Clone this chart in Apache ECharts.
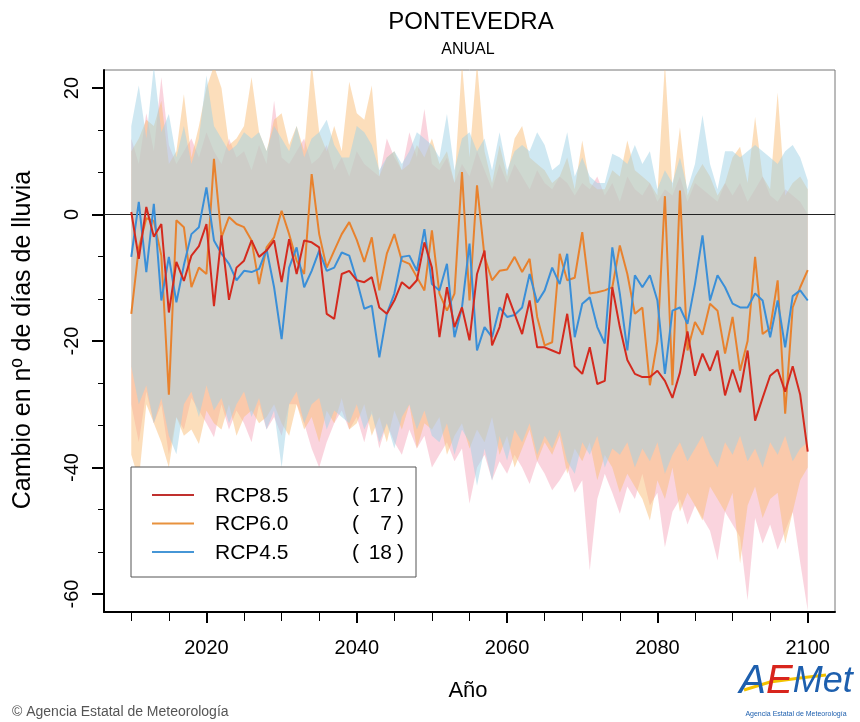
<!DOCTYPE html>
<html>
<head>
<meta charset="utf-8">
<script src="https://cdn.jsdelivr.net/npm/echarts@6/dist/echarts.min.js"></script>
<style>html,body{margin:0;padding:0;background:#fff}#c{width:860px;height:722px}</style>
</head>
<body>
<div id="c"></div>
<script>
// ---- data ----
const firstYear = 2010, lastYear = 2100;
const years = Array.from({length: lastYear - firstYear + 1}, (_, i) => firstYear + i);

const seriesNames = ['RCP8.5', 'RCP6.0', 'RCP4.5'];
const modelCounts = [17, 7, 18];

const rcp85 = [
  0.4, -7, 1.2, -3.5, -1.5, -15.5, -7.5, -10.5, -6.5, -5,
  -1.5, -14.5, -3.3, -13.5, -8.4, -7.3, -4.1, -6.7, -5.7, -4.1,
  -10.7, -3.9, -9.4, -4.1, -4.4, -5.2, -15.7, -16.5, -9.4, -8.9,
  -10.4, -10.7, -9.9, -14.7, -15.7, -13.6, -10.7, -11.7, -10.4, -4.4,
  -8.4, -19.4, -11.5, -17.8, -14.7, -19.9, -9.4, -5.7, -20.7, -17.8,
  -12.5, -15.7, -18.9, -13.6, -21, -21, -21.5, -22, -15.7, -24,
  -25.2, -21, -26.8, -26.3, -11.5, -17.8, -23, -25.2, -25.7, -25.7,
  -24.7, -26.3, -29, -25, -18.5, -25.5, -22, -24.7, -21.5, -28.6,
  -24.5, -28.1, -21.5, -32.6, -29, -25.5, -24.5, -28, -24, -28.5, -37.5
];
const rcp60 = [
  -15.7, -5.3, -0.6, -1, -6.5, -28.5, -0.9, -2, -11.5, -8.4,
  -9.4, 8.8, -3.6, -0.4, -1.5, -2, -4.1, -11, -5.2, -3.6,
  0.6, -3.1, -7.3, -9.4, 6.4, -3.1, -8.4, -5.7, -3.1, -1.2,
  -4, -7.5, -3.6, -12, -6.2, -3.1, -7.3, -7.8, -9.9, -12,
  -2.5, -12.5, -15.2, -12.5, 6.7, -13.6, 4.6, -6.7, -10.4, -8.9,
  -8.7, -6.7, -9.1, -7, -16.2, -20.7, -20.2, -6.2, -10.4, -10,
  -2.8, -12.5, -12.3, -12, -11.5, -4.9, -9.4, -15.7, -14.7, -27,
  -20, 2.9, -27, 3.8, -21.5, -17, -19, -14.1, -15.2, -22,
  -16.2, -24.7, -20, -6.7, -18.9, -18, -10.4, -31.5, -14.7, -11.5, -8.8
];
const rcp45 = [
  -6.7, 2, -9.1, 1.7, -13.6, -6.7, -13.9, -8, -3.1, -2,
  4.3, -4.1, -6.2, -7.8, -10.4, -8.9, -9.1, -8.6, -5.5, -11.5,
  -19.7, -8.4, -5.2, -11.5, -8.9, -5.7, -8.9, -8.4, -6, -6.5,
  -10.4, -14.9, -14.4, -22.6, -15.7, -12.5, -6.7, -6.5, -8.9, -2.3,
  -11, -12, -7.8, -19.4, -14.7, -4.6, -21.5, -17.8, -19.4, -14.7,
  -16.2, -15.9, -14.7, -9.4, -13.9, -12, -8.4, -11, -6.2, -19.4,
  -14.1, -13.1, -17.8, -20.4, -5.2, -12.5, -21.5, -9.6, -11.5, -9.6,
  -13.6, -25.2, -15.2, -14.7, -17.3, -11, -3.3, -13.6, -9.6, -11.5,
  -14.1, -14.7, -14.7, -12.5, -13.6, -19.4, -13.6, -21, -12.9, -12, -13.6
];

// ensemble spread (upper / lower envelopes)
const rcp85Hi = [
  12, 8, 16, 10, 21.7, 11, 8, 10, 12, 9,
  13, 10, 8, 12, 9, 10, 7, 11, 8, 18,
  9, 8, 10, 12, 8, 9, 11, 7, 9, 6,
  10, 8, 7, 6, 12, 9, 7, 13, 9, 16.7,
  8, 7, 9, 5, 8, 6, 10, 7, 4, 8,
  5, 8, 6, 4, 7, 5, 4, 6, 5, 3,
  5, 4, 6, 3, 5, 2, 6, 4, 3, 5,
  2, 4, 3, 6, 2, 5, 4, 3, 2, 5,
  3, 5, 2, 4, 6, 3, 2, 4, 3, 2, 0
];
const rcp85Lo = [
  -30, -36, -28, -33, -30, -38, -32, -34, -29, -31,
  -33, -35.2, -30, -34, -31, -33, -36, -30, -34, -32,
  -35, -30, -30, -33, -37, -40, -36, -33, -31, -34,
  -32, -36, -31, -37, -33, -36, -38, -34, -37, -35,
  -40, -38, -36, -39, -37, -45.7, -40, -38, -42, -39,
  -41, -38, -40, -42.6, -39, -41, -43.6, -42, -40, -44,
  -42, -56.3, -45, -41, -44, -47.3, -43, -45, -41, -46,
  -44, -52.6, -47, -45, -49, -46, -48, -50, -54.7, -47,
  -49, -51, -61, -48, -52, -49, -53, -50, -47, -55, -62.6
];
const rcp60Hi = [
  10, 12, 15, 14, 18, 8, 10, 19, 9, 14,
  20, 23.5, 20, 11, 12, 14, 21.7, 13, 10, 15,
  16, 11, 14, 10, 24, 13, 10, 14, 10, 21,
  16, 15, 20.4, 6, 9, 10, 7, 8, 11, 9,
  12, 8, 10, 5, 24, 9, 24, 10, 5, 11,
  6, 12, 14, 9, 8, 7, 5, 6, 9, 4,
  11.7, 5, 4, 4, 7, 6, 11.7, 7, 6, 5,
  3, 24, 4, 13.8, 3, 6, 8, 6, 3, 5,
  9, 10.7, 5, 15.4, 6, 4, 19.3, 3, 5, 6, 4
];
const rcp60Lo = [
  -38, -42, -30, -33, -36, -40, -32, -35, -34, -36.3,
  -31, -33, -34, -30, -35, -32, -31, -33, -32, -30,
  -33, -35, -30, -34, -32, -36, -31, -33, -29, -34,
  -33, -30, -35, -32, -36, -31, -34, -30, -37, -33,
  -34, -32, -38, -35, -33, -37, -34, -36, -32, -38,
  -35, -40, -37, -34, -39, -36, -38, -35, -41, -37,
  -39, -36, -42, -38, -40, -44, -41, -43, -45, -48.4,
  -42, -45, -40, -47, -44, -46, -48.4, -43, -45, -47,
  -44, -55.2, -46, -43, -48, -45, -44, -52, -47, -42, -40
];
const rcp45Hi = [
  14, 20.4, 12, 23.5, 13, 15.9, 9, 14, 8, 12,
  22, 14, 12, 10, 11, 13, 12, 13, 10, 14,
  12, 10, 14, 9, 12, 13, 15, 11, 9, 9,
  14, 13, 11, 7, 9, 10, 8, 10, 13, 12,
  11, 9, 15.9, 7, 12, 13, 10, 12, 7, 13,
  7, 10, 11, 10, 13, 11, 7, 8, 13, 6,
  9, 6, 5, 5, 9.6, 9, 8, 11, 8, 10,
  4, 7, 5, 9, 4, 8, 15.7, 8, 4, 10,
  10, 9, 10, 11, 10, 9, 8, 10, 11, 9, 5.4
];
const rcp45Lo = [
  -24, -30, -27, -33, -29, -35, -37.9, -30, -28, -32,
  -27, -31, -29, -33, -30, -28, -32, -29, -34, -31,
  -40, -30, -28, -33, -30, -29, -34, -31, -32, -33,
  -30, -34, -31.5, -36, -33, -37, -32, -30, -34, -31,
  -35, -36, -33, -38, -34, -36, -42.9, -37, -42.1, -35,
  -38.9, -34, -36, -33, -38, -35, -37, -34, -39, -41,
  -36, -38, -35, -40, -37, -38, -36, -40, -37, -39,
  -36, -41, -38, -36, -39, -37, -35, -38, -40, -36,
  -38, -35, -39, -37, -40, -36, -38, -35, -39, -37, -36
];

const xTickLabels = [2020, 2040, 2060, 2080, 2100];
const xMinorTicks = [2010, 2015, 2020, 2025, 2030, 2035, 2040, 2045, 2050, 2055, 2060, 2065, 2070, 2075, 2080, 2085, 2090, 2095, 2100];
const yTickLabels = [-60, -40, -20, 0, 20];
const yMinorTicks = [-60, -53.333, -46.667, -40, -33.333, -26.667, -20, -13.333, -6.667, 0, 6.667, 13.333, 20];

// ---- styles ----
const FONT = '"Liberation Sans", Arial, Helvetica, sans-serif';
const lineColors = ['#d42a1e', '#e8822e', '#3a8fd8'];
const bandColors = ['rgba(245,170,190,0.5)', 'rgba(250,190,120,0.5)', 'rgba(160,210,230,0.5)'];
const X_MIN = 2006.37, X_MAX = 2103.63, Y_MIN = -62.85, Y_MAX = 22.85;

const chart = echarts.init(document.getElementById('c'), null, {renderer: 'canvas'});

function bandSeries(lo, hi, color) {
  return {
    type: 'custom',
    silent: true,
    clip: true,
    z: 1,
    xAxisIndex: 0, yAxisIndex: 0,
    data: years.map((y, i) => [y, lo[i], hi[i]]),
    encode: {x: 0, y: [1, 2]},
    renderItem: function (params, api) {
      if (params.dataIndex !== 0) return null;
      const top = [], bot = [];
      for (let i = 0; i < years.length; i++) {
        top.push(api.coord([years[i], hi[i]]));
        bot.push(api.coord([years[i], lo[i]]));
      }
      const pts = top.concat(bot.reverse());
      return {type: 'polygon', shape: {points: pts}, style: {fill: color, stroke: null}};
    }
  };
}

function lineSeries(name, data, color, z) {
  return {
    name, type: 'line', z,
    data: years.map((y, i) => [y, data[i]]),
    symbol: 'none', smooth: false, silent: true,
    lineStyle: {color, width: 2},
    itemStyle: {color}
  };
}

const axisLabelFont = {fontFamily: FONT, fontSize: 20, color: '#000'};

const option = {
  animation: false,
  backgroundColor: '#fff',
  grid: {left: 104, right: 25, top: 70, bottom: 110, show: true, borderColor: '#777', borderWidth: 1, backgroundColor: 'transparent'},
  xAxis: [
    {type: 'value', min: X_MIN, max: X_MAX, position: 'bottom',
      axisLine: {show: true, onZero: false, lineStyle: {color: '#000', width: 2}},
      axisTick: {show: true, customValues: xMinorTicks, length: 9, lineStyle: {color: '#000', width: 1}},
      axisLabel: {show: false}, splitLine: {show: false}},
    {type: 'value', min: X_MIN, max: X_MAX, position: 'bottom',
      axisLine: {show: false, onZero: false},
      axisTick: {show: true, customValues: xTickLabels, length: 11, lineStyle: {color: '#000', width: 2}},
      axisLabel: Object.assign({show: true, customValues: xTickLabels, margin: 26, formatter: v => String(v)}, axisLabelFont),
      splitLine: {show: false}}
  ],
  yAxis: [
    {type: 'value', min: Y_MIN, max: Y_MAX, position: 'left',
      axisLine: {show: true, onZero: false, lineStyle: {color: '#000', width: 2}},
      axisTick: {show: true, customValues: yMinorTicks, length: 6, lineStyle: {color: '#000', width: 1}},
      axisLabel: {show: false}, splitLine: {show: false}},
    {type: 'value', min: Y_MIN, max: Y_MAX, position: 'left',
      axisLine: {show: false, onZero: false},
      axisTick: {show: true, customValues: yTickLabels, length: 12, lineStyle: {color: '#000', width: 2}},
      axisLabel: Object.assign({show: true, customValues: yTickLabels, rotate: 90, margin: 22, formatter: v => String(v)}, axisLabelFont),
      splitLine: {show: false}}
  ],
  series: [
    bandSeries(rcp85Lo, rcp85Hi, bandColors[0]),
    bandSeries(rcp60Lo, rcp60Hi, bandColors[1]),
    bandSeries(rcp45Lo, rcp45Hi, bandColors[2]),
    {type: 'line', z: 2, silent: true, symbol: 'none',
      data: [[X_MIN, 0], [X_MAX, 0]], lineStyle: {color: '#222', width: 1}},
    lineSeries(seriesNames[1], rcp60, lineColors[1], 3),
    lineSeries(seriesNames[2], rcp45, lineColors[2], 4),
    lineSeries(seriesNames[0], rcp85, lineColors[0], 5)
  ],
  graphic: []
};

// texts
const g = option.graphic;
function txt(text, x, y, font, opts) {
  const o = Object.assign({type: 'text', x, y, silent: true, z: 100,
    style: {text, font, fill: '#000', align: 'center', textAlign: 'center', verticalAlign: 'middle', textVerticalAlign: 'middle'}}, opts || {});
  if (opts && opts.style) o.style = Object.assign({text, font, fill: '#000', align: 'center', textAlign: 'center', verticalAlign: 'middle', textVerticalAlign: 'middle'}, opts.style);
  return o;
}
g.push(txt('PONTEVEDRA', 471, 22, '24px ' + FONT));
g.push(txt('ANUAL', 468, 50, '16px ' + FONT));
g.push(txt('Año', 468, 691, '22px ' + FONT));
g.push(txt('Cambio en nº de días de lluvia', 23, 340, '25px ' + FONT, {rotation: Math.PI / 2}));
g.push(txt('© Agencia Estatal de Meteorología', 12, 712, '14px ' + FONT, {style: {fill: '#555', align: 'left', textAlign: 'left'}}));

// legend box
const legX = 131, legY = 467, legW = 285, legH = 110;
g.push({type: 'rect', shape: {x: legX, y: legY, width: legW, height: legH}, style: {fill: '#fff', stroke: '#555', lineWidth: 1}, z: 90, silent: true});
const legendColors = ['#c0302e', '#e8923e', '#4696d6'];
const rowY = [496, 524.5, 553];
for (let k = 0; k < 3; k++) {
  g.push({type: 'line', shape: {x1: legX + 21, y1: rowY[k] - 1, x2: legX + 63, y2: rowY[k] - 1}, style: {stroke: legendColors[k], lineWidth: 2}, z: 95, silent: true});
  g.push(txt(seriesNames[k], legX + 84, rowY[k], '21px ' + FONT, {style: {align: 'left', textAlign: 'left'}}));
  g.push(txt('(', legX + 221, rowY[k], '21px ' + FONT, {style: {align: 'left', textAlign: 'left'}}));
  g.push(txt(String(modelCounts[k]), legX + 261, rowY[k], '21px ' + FONT, {style: {align: 'right', textAlign: 'right'}}));
  g.push(txt(')', legX + 266, rowY[k], '21px ' + FONT, {style: {align: 'left', textAlign: 'left'}}));
}

// AEMet logo (text)
g.push({type: 'polyline', shape: {points: [[744, 690], [770, 682], [800, 678], [826, 675]]}, style: {stroke: '#f2c200', lineWidth: 3, fill: null}, z: 99, silent: true});
g.push({type: 'text', x: 796, y: 682, z: 100, silent: true,
  style: {text: '{a|A}{e|E}{m|Met}', align: 'center', textAlign: 'center', verticalAlign: 'middle', textVerticalAlign: 'middle',
    rich: {a: {font: 'italic 40px ' + FONT, fill: '#1d5fae', color: '#1d5fae'}, e: {font: 'italic 40px ' + FONT, fill: '#d8251d', color: '#d8251d'}, m: {font: 'italic 36px ' + FONT, fill: '#1d5fae', color: '#1d5fae'}}}});
g.push(txt('Agencia Estatal de Meteorología', 796, 714, '7px ' + FONT, {style: {fill: '#1d5fae'}}));

chart.setOption(option);
</script>
</body>
</html>
